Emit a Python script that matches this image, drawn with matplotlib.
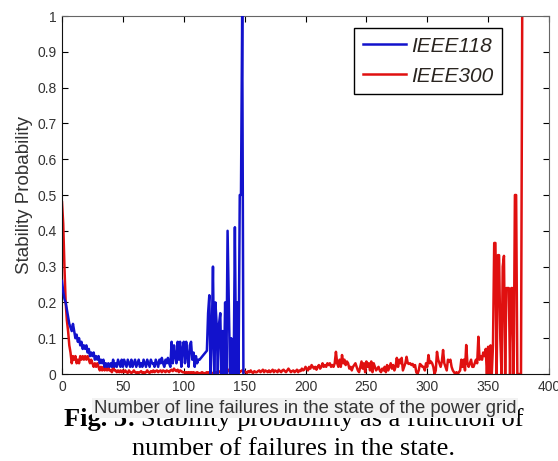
import numpy as np
import matplotlib
matplotlib.use("Agg")
import matplotlib.pyplot as plt

# failure counts (x) and stability probability (y)
ieee118_x = list(range(0, 114)) + list(range(119, 150))
ieee118_y = [
    0.26, 0.23, 0.21, 0.20, 0.18, 0.16, 0.14, 0.13, 0.12, 0.14,
    0.12, 0.10, 0.11, 0.09, 0.10, 0.08, 0.09, 0.07, 0.08, 0.07,
    0.08, 0.06, 0.07, 0.05, 0.06, 0.05, 0.06, 0.04, 0.05, 0.04,
    0.05, 0.03, 0.04, 0.03, 0.04, 0.02, 0.03, 0.02, 0.03, 0.02,
    0.03, 0.02, 0.04, 0.02, 0.03, 0.02, 0.04, 0.03, 0.02, 0.04,
    0.02, 0.04, 0.03, 0.02, 0.04, 0.03, 0.02, 0.04, 0.02, 0.03,
    0.04, 0.02, 0.03, 0.04, 0.02, 0.03, 0.02, 0.04, 0.03, 0.02,
    0.04, 0.03, 0.02, 0.04, 0.03, 0.03, 0.02, 0.04, 0.03, 0.02,
    0.04, 0.03, 0.045, 0.03, 0.02, 0.04, 0.03, 0.045, 0.03, 0.02,
    0.09, 0.03, 0.08, 0.05, 0.03, 0.09, 0.04, 0.09, 0.02, 0.07,
    0.09, 0.03, 0.09, 0.05, 0.02, 0.08, 0.09, 0.04, 0.06, 0.02,
    0.05, 0.03, 0.04, 0.04,
    0.065, 0.17, 0.22, 0.0, 0.10, 0.30, 0.0, 0.20, 0.14, 0.0,
    0.14, 0.17, 0.0, 0.12, 0.0, 0.20, 0.0, 0.40, 0.20, 0.0,
    0.10, 0.0, 0.0, 0.41, 0.0, 0.20, 0.0, 0.50, 0.50, 1.0,
    0.0,
]

ieee300_x = list(range(0, 379))
ieee300_y = [
    0.48, 0.42, 0.30, 0.20, 0.15, 0.12, 0.08, 0.06, 0.03, 0.05,
    0.04, 0.05, 0.03, 0.04, 0.03, 0.05, 0.04, 0.05, 0.04, 0.05,
    0.04, 0.05, 0.04, 0.03, 0.04, 0.03, 0.02, 0.03, 0.02, 0.03,
    0.02, 0.01, 0.02, 0.01, 0.02, 0.01, 0.02, 0.01, 0.02, 0.01,
    0.01, 0.005, 0.02, 0.01, 0.01, 0.005, 0.01, 0.005, 0.01, 0.005,
    0.01, 0.005, 0.01, 0.005, 0.003, 0.01, 0.005, 0.003, 0.005, 0.01,
    0.005, 0.003, 0.005, 0.003, 0.005, 0.008, 0.003, 0.005, 0.003, 0.005,
    0.01, 0.005, 0.003, 0.008, 0.005, 0.01, 0.005, 0.008, 0.01, 0.005,
    0.008, 0.01, 0.005, 0.01, 0.008, 0.005, 0.01, 0.008, 0.005, 0.01,
    0.012, 0.008, 0.015, 0.01, 0.008, 0.012, 0.005, 0.01, 0.008, 0.005,
    0.005, 0.003, 0.005, 0.003, 0.005, 0.003, 0.005, 0.003, 0.005, 0.003,
    0.003, 0.005, 0.003, 0.002, 0.003, 0.005, 0.003, 0.002, 0.003, 0.005,
    0.003, 0.005, 0.003, 0.002, 0.003, 0.005, 0.003, 0.005, 0.003, 0.005,
    0.008, 0.005, 0.01, 0.008, 0.005, 0.01, 0.008, 0.012, 0.005, 0.01,
    0.008, 0.005, 0.01, 0.005, 0.008, 0.01, 0.005, 0.008, 0.01, 0.005,
    0.008, 0.005, 0.003, 0.008, 0.005, 0.01, 0.005, 0.003, 0.008, 0.005,
    0.005, 0.008, 0.01, 0.005, 0.008, 0.012, 0.005, 0.01, 0.008, 0.005,
    0.01, 0.005, 0.008, 0.012, 0.005, 0.01, 0.008, 0.005, 0.012, 0.008,
    0.005, 0.01, 0.012, 0.008, 0.005, 0.01, 0.015, 0.01, 0.005, 0.008,
    0.01, 0.005, 0.008, 0.012, 0.005, 0.01, 0.008, 0.015, 0.01, 0.012,
    0.02, 0.015, 0.01, 0.02, 0.015, 0.025, 0.02, 0.015, 0.02, 0.012,
    0.02, 0.025, 0.015, 0.02, 0.03, 0.02, 0.025, 0.02, 0.03, 0.025,
    0.03, 0.02, 0.025, 0.02, 0.03, 0.062, 0.03, 0.02, 0.04, 0.02,
    0.053, 0.03, 0.04, 0.025, 0.035, 0.03, 0.015, 0.02, 0.01, 0.02,
    0.025, 0.03, 0.02, 0.01, 0.005, 0.02, 0.035, 0.015, 0.03, 0.005,
    0.035, 0.02, 0.03, 0.01, 0.035, 0.005, 0.03, 0.02, 0.01, 0.015,
    0.02, 0.01, 0.005, 0.015, 0.01, 0.02, 0.005, 0.025, 0.01, 0.02,
    0.03, 0.015, 0.025, 0.01, 0.02, 0.045, 0.02, 0.04, 0.03, 0.045,
    0.01, 0.02, 0.03, 0.048, 0.03, 0.028, 0.03, 0.025, 0.028, 0.02,
    0.025, 0.005, 0.0, 0.01, 0.028, 0.025, 0.02, 0.02, 0.01, 0.03,
    0.02, 0.053, 0.03, 0.035, 0.03, 0.02, 0.0, 0.01, 0.062, 0.04,
    0.03, 0.02, 0.035, 0.067, 0.03, 0.02, 0.01, 0.04, 0.035, 0.04,
    0.02, 0.01, 0.005, 0.0, 0.005, 0.0, 0.005, 0.01, 0.04, 0.02,
    0.04, 0.01, 0.081, 0.03, 0.02, 0.03, 0.04, 0.02, 0.02, 0.03,
    0.04, 0.03, 0.104, 0.04, 0.05, 0.04, 0.06, 0.05, 0.07, 0.0,
    0.076, 0.0, 0.08, 0.0, 0.08, 0.366, 0.366, 0.0, 0.332, 0.332,
    0.10, 0.0, 0.30, 0.33, 0.0, 0.24, 0.24, 0.24, 0.0, 0.24,
    0.24, 0.0, 0.50, 0.50, 0.0, 0.0, 0.0, 0.0, 1.0,
]

xticks = [0, 50, 100, 150, 200, 250, 300, 350, 400]
yticks = [0, 0.1, 0.2, 0.3, 0.4, 0.5, 0.6, 0.7, 0.8, 0.9, 1]
ytick_labels = ["0", "0.1", "0.2", "0.3", "0.4", "0.5", "0.6", "0.7", "0.8", "0.9", "1"]

BLUE = "#1212cc"
RED = "#e01010"
SANS = "Liberation Sans"
SERIF = "Liberation Serif"

fig = plt.figure(figsize=(5.58, 4.61), dpi=100)
ax = fig.add_axes([62 / 558, 1 - 374 / 461, 487 / 558, 358 / 461])

ax.plot(ieee118_x, ieee118_y, color=BLUE, lw=1.8, label="IEEE118", zorder=3)
ax.plot(ieee300_x, ieee300_y, color=RED, lw=1.8, label="IEEE300", zorder=2)

ax.set_xlim(0, 400); ax.set_ylim(0, 1)
ax.set_xticks(xticks)
ax.set_yticks(yticks); ax.set_yticklabels(ytick_labels)
ax.tick_params(direction="in", top=True, right=True, length=4, width=0.8,
               labelsize=10, labelcolor="#333333", pad=4)
for lab in ax.get_xticklabels() + ax.get_yticklabels():
    lab.set_family(SANS)
for s in ("left", "bottom"):
    ax.spines[s].set_color("#111111")
for s in ("top", "right"):
    ax.spines[s].set_color("#666666")

ax.set_ylabel("Stability Probability", family=SANS, fontsize=13.5,
              color="#333333", labelpad=3)

leg = ax.legend(loc="upper right", bbox_to_anchor=(0.9035, 0.9665),
                borderaxespad=0, fancybox=False, framealpha=1,
                edgecolor="black", handlelength=2.05, handletextpad=0.25,
                borderpad=0.42, labelspacing=0.52,
                prop={"family": SANS, "style": "italic", "size": 15})
leg.get_frame().set_linewidth(1.0)
for t in leg.get_texts():
    t.set_color("#2a2520")

# caption of the paper, partly covered by the x label box
fig.canvas.draw()
r = fig.canvas.get_renderer()
cap_bold = fig.text(64 / 558, 1 - 426 / 461, "Fig. 5:", ha="left", va="baseline",
                    family=SERIF, fontsize=19, weight="bold", zorder=1)
bw = cap_bold.get_window_extent(r).width
fig.text(64 / 558 + (bw + 5) / 558, 1 - 426 / 461,
         "Stability probability as a function of",
         ha="left", va="baseline", family=SERIF, fontsize=19, zorder=1)
fig.text(294 / 558, 1 - 455 / 461, "number of failures in the state.",
         ha="center", va="baseline", family=SERIF, fontsize=19, zorder=1)

fig.text(305 / 558, 1 - 408 / 461,
         "Number of line failures in the state of the power grid",
         ha="center", va="center", family=SANS, fontsize=13.3, color="#333333",
         zorder=5, bbox=dict(facecolor="#f2f2f2", edgecolor="none", pad=1))

fig.savefig("out.png", dpi=100)
